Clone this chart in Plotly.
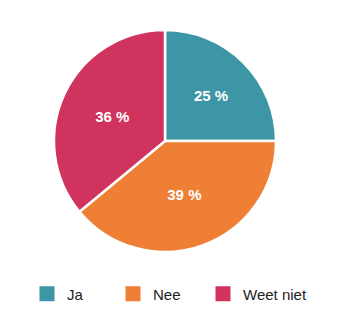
import plotly.graph_objects as go

labels = ["Ja", "Nee", "Weet niet"]
values = [25, 39, 36]
colors = ["#3D96A6", "#EE7F35", "#CF335E"]

W, H = 340, 334
x0, x1 = 54, 276
y0, y1 = 30, 252
legend_centers = [47, 133, 223]   # pixel x of legend squares
legend_y = 294

fig = go.Figure(go.Pie(
    labels=labels,
    values=values,
    sort=False,
    direction="clockwise",
    rotation=0,
    marker=dict(colors=colors, line=dict(color="white", width=2.5)),
    texttemplate="%{value} %",
    textposition="inside",
    insidetextorientation="horizontal",
    textfont=dict(family="Liberation Sans, Arial, sans-serif", size=15, color="white", weight="bold"),
    domain=dict(x=[x0 / W, x1 / W], y=[1 - y1 / H, 1 - y0 / H]),
    hoverinfo="label+percent",
    showlegend=False,
))

legend_names = ["legend", "legend2", "legend3"]
for lab, col, lg in zip(labels, colors, legend_names):
    fig.add_trace(go.Scatter(
        x=[None], y=[None], mode="markers", name=lab,
        marker=dict(symbol="square", size=15, color=col),
        legend=lg, showlegend=True, hoverinfo="skip",
    ))

layout_legends = {}
for cx, lg in zip(legend_centers, legend_names):
    layout_legends[lg] = dict(
        orientation="h",
        x=(cx - 20) / W, xanchor="left",
        y=1 - legend_y / H, yanchor="middle",
        itemwidth=30,
        font=dict(size=15, family="Liberation Sans, Arial, sans-serif", color="#222222"),
        bgcolor="rgba(0,0,0,0)",
    )

fig.update_layout(
    width=W, height=H,
    margin=dict(l=0, r=0, t=0, b=0),
    paper_bgcolor="white",
    plot_bgcolor="white",
    font=dict(family="Liberation Sans, Arial, sans-serif", size=15, color="#222222"),
    xaxis=dict(visible=False),
    yaxis=dict(visible=False),
    **layout_legends,
)

fig.write_html("out.html")
